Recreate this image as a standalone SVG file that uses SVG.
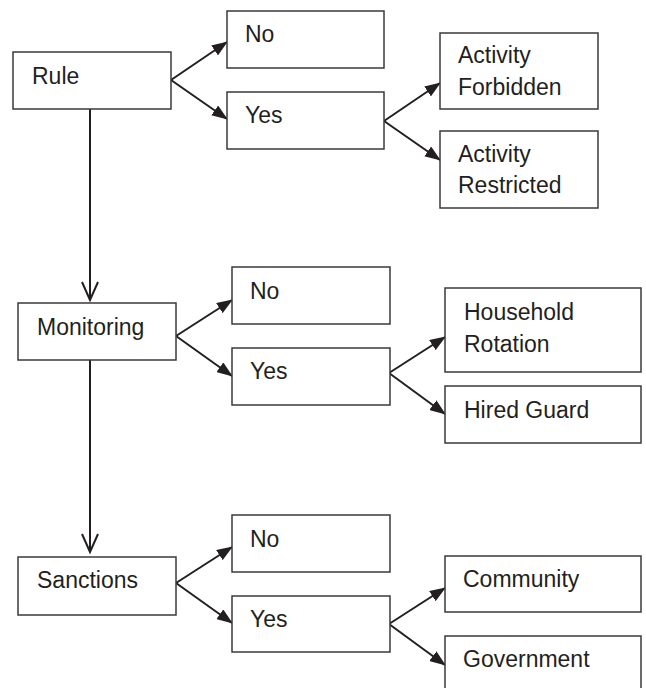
<svg xmlns="http://www.w3.org/2000/svg" width="646" height="688" viewBox="0 0 646 688">
<style>
.box{fill:#fff;stroke:#3a3a3a;stroke-width:1.5}
.t{font-family:"Liberation Sans",Arial,sans-serif;font-size:23px;fill:#231f20}
.c{stroke:#231f20;stroke-width:2;fill:none}
</style>
<defs>
<marker id="ah" markerUnits="userSpaceOnUse" markerWidth="16" markerHeight="12" refX="15" refY="6" orient="auto">
<path d="M0,0 L16,6 L0,12 Z" fill="#231f20"/>
</marker>
</defs>
<rect width="646" height="688" fill="#fff"/>
<g id="connectors">
<line class="c" x1="171" y1="80" x2="227" y2="42" marker-end="url(#ah)"/>
<line class="c" x1="171" y1="80" x2="227" y2="119" marker-end="url(#ah)"/>
<line class="c" x1="384" y1="121" x2="440" y2="83" marker-end="url(#ah)"/>
<line class="c" x1="384" y1="121" x2="440" y2="160" marker-end="url(#ah)"/>
<line class="c" x1="176" y1="336" x2="232" y2="300" marker-end="url(#ah)"/>
<line class="c" x1="176" y1="336" x2="232" y2="376" marker-end="url(#ah)"/>
<line class="c" x1="389" y1="373" x2="445" y2="337" marker-end="url(#ah)"/>
<line class="c" x1="389" y1="373" x2="445" y2="414" marker-end="url(#ah)"/>
<line class="c" x1="176" y1="583" x2="232" y2="547" marker-end="url(#ah)"/>
<line class="c" x1="176" y1="583" x2="232" y2="623" marker-end="url(#ah)"/>
<line class="c" x1="389" y1="624" x2="445" y2="588" marker-end="url(#ah)"/>
<line class="c" x1="389" y1="624" x2="445" y2="665" marker-end="url(#ah)"/>
<line class="c" x1="90" y1="109" x2="90" y2="300"/>
<polyline class="c" points="82,282 90,300 98,282"/>
<line class="c" x1="90" y1="360" x2="90" y2="552"/>
<polyline class="c" points="82,534 90,552 98,534"/>
</g>
<g id="rule"><rect class="box" x="13" y="52" width="158" height="57"/><text class="t" x="32" y="84">Rule</text></g>
<g id="rule-no"><rect class="box" x="227" y="11" width="157" height="57"/><text class="t" x="245" y="42">No</text></g>
<g id="rule-yes"><rect class="box" x="227" y="92" width="157" height="57"/><text class="t" x="245" y="123">Yes</text></g>
<g id="activity-forbidden"><rect class="box" x="440" y="33" width="158" height="76"/><text class="t" x="458" y="63">Activity</text><text class="t" x="458" y="95">Forbidden</text></g>
<g id="activity-restricted"><rect class="box" x="440" y="131" width="158" height="77"/><text class="t" x="458" y="162">Activity</text><text class="t" x="458" y="193">Restricted</text></g>
<g id="monitoring"><rect class="box" x="18" y="303" width="158" height="57"/><text class="t" x="37" y="335">Monitoring</text></g>
<g id="monitoring-no"><rect class="box" x="232" y="267" width="158" height="57"/><text class="t" x="250" y="299">No</text></g>
<g id="monitoring-yes"><rect class="box" x="232" y="348" width="158" height="57"/><text class="t" x="250" y="379">Yes</text></g>
<g id="household-rotation"><rect class="box" x="445" y="288" width="196" height="84"/><text class="t" x="464" y="320">Household</text><text class="t" x="464" y="352">Rotation</text></g>
<g id="hired-guard"><rect class="box" x="445" y="386" width="196" height="57"/><text class="t" x="464" y="418">Hired Guard</text></g>
<g id="sanctions"><rect class="box" x="18" y="557" width="158" height="58"/><text class="t" x="37" y="588">Sanctions</text></g>
<g id="sanctions-no"><rect class="box" x="232" y="515" width="158" height="57"/><text class="t" x="250" y="547">No</text></g>
<g id="sanctions-yes"><rect class="box" x="232" y="596" width="158" height="56"/><text class="t" x="250" y="627">Yes</text></g>
<g id="community"><rect class="box" x="445" y="556" width="196" height="56"/><text class="t" x="463" y="587">Community</text></g>
<g id="government"><rect class="box" x="445" y="636" width="196" height="60"/><text class="t" x="463" y="667">Government</text></g>
</svg>
